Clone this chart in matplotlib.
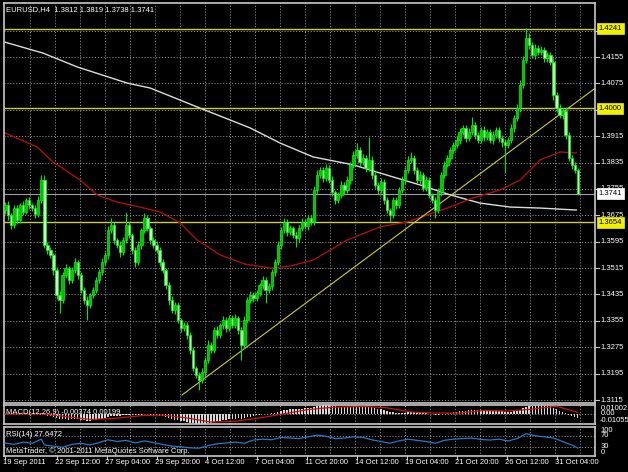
import matplotlib
matplotlib.use('Agg')
import matplotlib.pyplot as plt
import matplotlib.transforms as mtransforms
import numpy as np

# ---------------- data ----------------
symbol_text = "EURUSD,H4  1.3812 1.3819 1.3738 1.3741"
macd_text = "MACD(12,26,9) -0.00374 0.00199"
rsi_text = "RSI(14) 27.6472"
copyright_text = "MetaTrader, \u00a9 2001-2011 MetaQuotes Software Corp."

first_open = 13690
close_pips = [
    13706, 13676, 13646, 13697, 13661, 13706, 13685, 13721, 13706, 13697,
    13679, 13721, 13782, 13585, 13570, 13555, 13509, 13433, 13418, 13494,
    13515, 13479, 13509, 13533, 13494, 13449, 13418, 13403, 13433, 13449,
    13479, 13503, 13533, 13555, 13630, 13646, 13600, 13585, 13564, 13600,
    13646, 13615, 13570, 13533, 13585, 13630, 13667, 13637, 13600, 13585,
    13570, 13533, 13509, 13464, 13418, 13388, 13403, 13358, 13333, 13342,
    13312, 13267, 13212, 13191, 13176, 13200, 13236, 13282, 13267, 13327,
    13312, 13342, 13358, 13333, 13364, 13342, 13364, 13327, 13282, 13358,
    13418, 13433, 13424, 13439, 13464, 13479, 13449, 13460, 13503, 13533,
    13585, 13630, 13655, 13624, 13637, 13615, 13606, 13637, 13655, 13643,
    13667, 13655, 13752, 13797, 13812, 13788, 13818, 13782, 13746, 13721,
    13737, 13767, 13752, 13782, 13828, 13858, 13873, 13837, 13849, 13818,
    13843, 13797, 13767, 13752, 13776, 13721, 13691, 13676, 13721, 13706,
    13752, 13782, 13812, 13843, 13849, 13812, 13782, 13797, 13758, 13782,
    13737, 13721, 13691, 13746, 13797, 13828, 13849, 13873, 13888, 13903,
    13928, 13940, 13909, 13928, 13949, 13918, 13903, 13934, 13912, 13928,
    13903, 13918, 13934, 13909, 13897, 13888, 13903, 13940, 13970, 14000,
    14070, 14146, 14213, 14191, 14161, 14182, 14170, 14176, 14152, 14161,
    14140, 14040, 14000, 13979, 13991, 13918, 13849, 13828, 13812, 13741,
]
upper_wick = [
    8, 12, 6, 10, 9, 7, 11, 8, 10, 6,
    9, 12, 15, 14, 8, 10, 7, 9, 11, 8,
    12, 7, 10, 13, 6, 9, 8, 11, 7, 10,
    9, 8, 12, 10, 14, 21, 9, 7, 11, 8,
    39, 10, 7, 9, 12, 8, 15, 10, 6, 9,
    11, 8, 10, 7, 9, 12, 8, 10, 7, 11,
    9, 8, 10, 6, 9, 12, 8, 14, 10, 9,
    11, 7, 12, 8, 10, 9, 13, 7, 10, 12,
    9, 11, 8, 10, 7, 12, 9, 10, 8, 11,
    13, 9, 12, 8, 10, 7, 11, 9, 12, 8,
    10, 9, 12, 15, 10, 8, 14, 9, 11, 7,
    10, 12, 8, 11, 9, 13, 21, 10, 12, 8,
    69, 11, 9, 10, 12, 8, 9, 7, 10, 11,
    9, 12, 10, 11, 18, 9, 10, 12, 8, 11,
    9, 7, 10, 12, 9, 11, 8, 10, 9, 12,
    11, 10, 9, 12, 24, 8, 10, 9, 11, 8,
    10, 12, 9, 8, 11, 10, 9, 12, 10, 14,
    16, 12, 30, 14, 10, 12, 9, 11, 8, 10,
    9, 12, 10, 14, 9, 11, 10, 8, 9, 7,
]
lower_wick = [
    10, 14, 12, 8, 11, 9, 10, 7, 12, 9,
    11, 8, 10, 10, 12, 9, 14, 11, 39, 10,
    9, 12, 8, 10, 11, 9, 12, 45, 10, 8,
    11, 9, 10, 8, 12, 9, 11, 10, 14, 9,
    10, 8, 12, 14, 9, 11, 8, 10, 12, 9,
    10, 12, 9, 11, 14, 10, 12, 9, 11, 10,
    12, 14, 10, 9, 31, 10, 12, 9, 11, 8,
    10, 9, 11, 12, 8, 10, 9, 12, 46, 10,
    11, 9, 12, 10, 8, 11, 40, 9, 10, 12,
    9, 11, 10, 12, 9, 10, 27, 11, 9, 10,
    12, 10, 9, 11, 8, 12, 10, 9, 11, 13,
    10, 9, 12, 8, 11, 10, 9, 12, 10, 11,
    10, 12, 9, 11, 10, 12, 10, 21, 9, 11,
    10, 9, 12, 8, 10, 11, 9, 12, 10, 9,
    11, 10, 24, 9, 12, 10, 8, 11, 9, 10,
    12, 9, 11, 10, 8, 12, 10, 9, 11, 10,
    9, 12, 10, 11, 14, 85, 10, 9, 11, 10,
    12, 10, 9, 12, 10, 11, 9, 10, 12, 11,
    10, 14, 12, 10, 11, 13, 10, 12, 9, 3,
]

white_ma_bars = [0, 12.5, 23.8, 40.3, 47.9, 64.4, 80.9, 90.8, 101.7, 114.9,
                 123.8, 137, 146.9, 156.8, 166.7, 176.6, 188.5]
white_ma_vals = [1.4200, 1.4167, 1.4125, 1.4076, 1.4061, 1.4000, 1.3940, 1.3894, 1.3852, 1.3828,
                 1.3803, 1.3767, 1.3737, 1.3712, 1.3700, 1.3697, 1.3691]
red_ma_bars = [0, 10.6, 15.8, 24.8, 30.4, 37, 44.6, 51.2, 57.8, 63.4, 71, 79.2, 87.5,
               94, 101.7, 112.9, 123.8, 132.7, 139.3, 146.9, 154.5, 163.4, 170, 176.6,
               183.2, 188.5]
red_ma_vals = [1.3925, 1.3882, 1.3837, 1.3782, 1.3737, 1.3715, 1.3700, 1.3685, 1.3652,
               1.3600, 1.3555, 1.3527, 1.3515, 1.3521, 1.3539, 1.3600, 1.3640, 1.3655,
               1.3676, 1.3700, 1.3728, 1.3752, 1.3782, 1.3843, 1.3867, 1.3864]

h_levels = [1.4241, 1.4000, 1.3654]
bid_price = 1.3741
trend_bars = [58.4, 194.7]
trend_vals = [1.3130, 1.4060]

price_grid = [1.3115, 1.3195, 1.3275, 1.3355, 1.3435, 1.3515, 1.3595, 1.3675,
              1.3755, 1.3835, 1.3915, 1.3995, 1.4075, 1.4155, 1.4235]
hidden_grid_labels = [1.3995, 1.4235]

macd_main = [
    0.8, 0.6, 0.3, 0.4, 0.2, 0.3, 0.2, 0.4, 0.5, 0.4,
    0.2, 0.4, 1.0, -0.5, -1.5, -2.4, -3.3, -4.5, -5.5, -5.6,
    -5.5, -5.8, -5.6, -5.2, -5.3, -5.8, -6.4, -6.9, -6.9, -6.7,
    -6.2, -5.6, -4.9, -4.2, -3.0, -2.0, -1.6, -1.4, -1.4, -1.1,
    -0.6, -0.5, -0.7, -1.2, -1.1, -0.7, -0.2, -0.1, -0.3, -0.6,
    -1.0, -1.6, -2.3, -3.2, -4.3, -5.3, -5.9, -6.7, -7.4, -7.8,
    -8.3, -9.0, -9.8, -10.3, -10.6, -10.5, -10.1, -9.4, -9.0, -8.2,
    -7.7, -7.0, -6.4, -6.0, -5.4, -5.1, -4.6, -4.5, -4.7, -4.2,
    -3.3, -2.5, -1.9, -1.3, -0.6, 0.0, 0.2, 0.5, 1.1, 1.8,
    2.8, 3.8, 4.7, 5.1, 5.5, 5.6, 5.6, 5.9, 6.2, 6.3,
    6.6, 6.6, 7.5, 8.5, 9.3, 9.6, 10.0, 9.8, 9.2, 8.5,
    8.0, 7.9, 7.6, 7.6, 8.0, 8.6, 9.0, 8.9, 8.8, 8.3,
    8.1, 7.4, 6.6, 5.8, 5.3, 4.4, 3.4, 2.4, 2.0, 1.5,
    1.4, 1.5, 1.9, 2.4, 2.7, 2.6, 2.2, 2.0, 1.5, 1.3,
    0.8, 0.3, -0.3, -0.3, 0.1, 0.6, 1.1, 1.7, 2.3, 2.8,
    3.4, 3.9, 4.0, 4.2, 4.6, 4.6, 4.5, 4.6, 4.4, 4.3,
    4.0, 3.8, 3.7, 3.4, 3.0, 2.6, 2.4, 2.6, 3.1, 3.8,
    4.9, 6.3, 7.8, 8.7, 9.1, 9.5, 9.6, 9.6, 9.3, 8.9,
    8.4, 6.9, 5.3, 3.8, 2.6, 1.0, -0.8, -1.9, -2.8, -3.7,
]
signal_bars = [0, 12, 20, 28, 36, 45, 52, 60, 68, 76, 85, 92, 100, 108, 118, 126,
               134, 142, 150, 158, 166, 174, 182, 189]
signal_vals = [0.3, 0.4, -2.5, -5.6, -4.5, -1.5, -0.8, -4.0, -8.5, -7.5, -3.5, 0.5,
               5.0, 7.5, 8.5, 7.0, 2.5, 1.2, 1.3, 4.0, 3.5, 5.5, 8.7, 2.0]
macd_top, macd_bottom = 0.01002, -0.01055

rsi_bars = [0, 3, 6, 9, 12, 13, 16, 19, 22, 25, 28, 31, 34, 37, 40, 43, 46, 49, 52, 55,
            58, 61, 64, 67, 70, 73, 76, 79, 82, 85, 88, 91, 94, 97, 100, 103, 106, 109,
            112, 115, 118, 121, 124, 127, 130, 133, 136, 139, 142, 145, 148, 151, 154,
            157, 160, 163, 166, 169, 172, 175, 178, 181, 184, 187, 189]
rsi_vals = [45, 40, 48, 44, 58, 38, 34, 30, 40, 44, 38, 46, 56, 50, 54, 45, 52, 46, 40, 34,
            32, 28, 27, 36, 42, 45, 48, 44, 55, 58, 56, 64, 62, 60, 66, 72, 68, 60,
            62, 66, 64, 56, 50, 44, 52, 58, 54, 50, 44, 54, 58, 60, 62,
            57, 55, 58, 52, 60, 77, 70, 66, 62, 50, 38, 27.6]

time_labels = ["19 Sep 2011", "22 Sep 12:00", "27 Sep 04:00", "29 Sep 20:00", "4 Oct 12:00",
               "7 Oct 04:00", "11 Oct 20:00", "14 Oct 12:00", "19 Oct 04:00", "21 Oct 20:00",
               "26 Oct 12:00", "31 Oct 04:00"]
time_label_bars = [-0.7, 16.5, 33, 49.5, 66, 82.5, 99, 115.5, 132, 148.5, 165, 181.5]

# ---------------- style ----------------
FS = 5.5
plt.rcParams['font.family'] = ['Liberation Sans', 'DejaVu Sans']

W, H = 628, 472
fig = plt.figure(figsize=(W / 100, H / 100), dpi=100, facecolor='black')

def px_axes(x0, y0, x1, y1):
    return fig.add_axes([x0 / W, 1 - y1 / H, (x1 - x0) / W, (y1 - y0) / H])

BORDER = '#c8c8c8'
GRID = '#a8a8a8'
LEVEL = '#cccc33'
DOT = (0, (1.3, 2.2))

ax = px_axes(4, 3, 595, 403)
axm = px_axes(4, 405, 595, 424)
axr = px_axes(4, 427, 595, 456)

n = len(close_pips)
bars = np.arange(n)
xl = (-0.33, 194.7)

for a in (ax, axm, axr):
    a.set_facecolor('black')
    a.set_xlim(*xl)
    for s in a.spines.values():
        s.set_color(BORDER)
        s.set_linewidth(1.2)
    a.set_xticks([])
    a.tick_params(axis='y', which='both', length=0, labelleft=False, labelright=False)
    for k in range(1, 24):
        a.axvline(8.25 * k, color=GRID, lw=0.6, ls=DOT, zorder=0.5)

# ---------------- main chart ----------------
ymin = 1.3115 - 3 / 3298
ymax = 1.3115 + 397 / 3298
ax.set_ylim(ymin, ymax)
for p in price_grid:
    ax.axhline(p, color=GRID, lw=0.6, ls=DOT, zorder=0.5)

closes = np.array(close_pips) / 1e4
opens = np.concatenate([[first_open / 1e4], closes[:-1]])
highs = np.maximum(opens, closes) + np.array(upper_wick) / 1e4
lows = np.minimum(opens, closes) - np.array(lower_wick) / 1e4
up = closes >= opens

ax.vlines(bars, lows, highs, color='#00e800', lw=0.8, zorder=3)
body_lo = np.minimum(opens, closes)
body_h = np.maximum(np.abs(closes - opens), 0.00008)
ax.bar(bars[up], body_h[up], bottom=body_lo[up], width=0.75, color='#00c000',
       edgecolor='#00ff00', lw=0.5, zorder=4)
ax.bar(bars[~up], body_h[~up], bottom=body_lo[~up], width=0.75, color='#b4ffb4',
       edgecolor='#00ff00', lw=0.5, zorder=4)

ax.plot(white_ma_bars, white_ma_vals, color='#dcdcdc', lw=1.0, zorder=2)
ax.plot(red_ma_bars, red_ma_vals, color='#a81010', lw=1.0, zorder=2)
for lv in h_levels:
    ax.axhline(lv, color=LEVEL, lw=1.0, zorder=1.5)
ax.axhline(bid_price, color='#9aa0a8', lw=0.8, zorder=1.5)
ax.plot(trend_bars, trend_vals, color=LEVEL, lw=0.8, zorder=2.5)

# right price scale
tr = mtransforms.blended_transform_factory(ax.transAxes, ax.transData)
for p in price_grid:
    ax.plot([1.0, 1.006], [p, p], color=BORDER, lw=0.8, transform=tr, clip_on=False)
    if p in hidden_grid_labels:
        continue
    ax.text(1.010, p, f"{p:.4f}", color='white', fontsize=FS, ha='left', va='center',
            transform=tr, clip_on=False, zorder=5)
for lv in h_levels:
    ax.text(1.006, lv, f"{lv:.4f}", color='black', fontsize=FS, ha='left', va='center',
            transform=tr, clip_on=False, zorder=6,
            bbox=dict(boxstyle='square,pad=0.25', fc='#f0f000', ec='#f0f000', lw=0.5))
ax.text(1.006, bid_price, f"{bid_price:.4f}", color='black', fontsize=FS, ha='left',
        va='center', transform=tr, clip_on=False, zorder=6,
        bbox=dict(boxstyle='square,pad=0.25', fc='white', ec='white', lw=0.5))

fig.text(6 / W, 1 - 10 / H, symbol_text, color='white', fontsize=FS, ha='left', va='center')

# ---------------- MACD ----------------
axm.set_ylim(macd_bottom, macd_top)
axm.bar(bars, np.array(macd_main) / 1000, width=0.5, color='#d8d8d8', zorder=2)
axm.plot(signal_bars, np.array(signal_vals) / 1000, color='#d01010', lw=0.9, zorder=3)
axm.axhline(0, color=GRID, lw=0.6, ls=DOT, zorder=0.5)
trm = mtransforms.blended_transform_factory(axm.transAxes, axm.transData)
axm.text(1.010, macd_top, f"{macd_top:.5f}", color='white', fontsize=FS, ha='left', va='top',
         transform=trm, clip_on=False)
axm.text(1.010, 0.0006, "0.00", color='white', fontsize=FS, ha='left', va='center',
         transform=trm, clip_on=False)
axm.text(1.008, macd_bottom, f"{macd_bottom:.5f}", color='white', fontsize=FS, ha='left',
         va='bottom', transform=trm, clip_on=False)
fig.text(6 / W, 1 - 412 / H, macd_text, color='white', fontsize=FS, ha='left', va='center')

# ---------------- RSI ----------------
axr.set_ylim(0, 100)
for lv in (70, 30):
    axr.axhline(lv, color=GRID, lw=0.6, ls=DOT, zorder=0.5)
axr.plot(rsi_bars, rsi_vals, color='#2a78c8', lw=0.9, zorder=3)
trr = mtransforms.blended_transform_factory(axr.transAxes, axr.transData)
axr.text(1.010, 100, "100", color='white', fontsize=FS, ha='left', va='top', transform=trr, clip_on=False)
axr.text(1.010, 72, "70", color='white', fontsize=FS, ha='left', va='center', transform=trr, clip_on=False)
axr.text(1.010, 32, "30", color='white', fontsize=FS, ha='left', va='center', transform=trr, clip_on=False)
axr.text(1.010, 0, "0", color='white', fontsize=FS, ha='left', va='bottom', transform=trr, clip_on=False)
fig.text(6 / W, 1 - 434 / H, rsi_text, color='white', fontsize=FS, ha='left', va='center')
fig.text(6 / W, 1 - 451 / H, copyright_text, color='white', fontsize=FS, ha='left', va='center')

# ---------------- time axis ----------------
trt = mtransforms.blended_transform_factory(axr.transData, fig.transFigure)
for lab, b in zip(time_labels, time_label_bars):
    axr.text(b, 1 - 463 / H, lab, color='white', fontsize=FS, ha='left', va='center',
             transform=trt, clip_on=False)
    axr.plot([b + 0.7, b + 0.7], [1 - 456 / H, 1 - 459 / H], color=BORDER, lw=0.8,
             transform=trt, clip_on=False)

fig.savefig('out.png', dpi=100, facecolor='black')
